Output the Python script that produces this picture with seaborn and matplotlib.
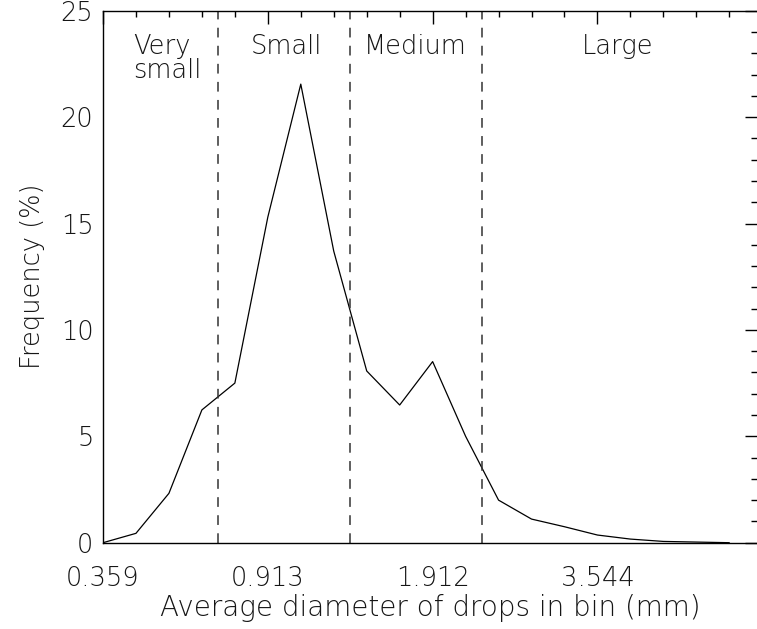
import matplotlib
matplotlib.use("Agg")
import matplotlib.pyplot as plt
import seaborn as sns
import numpy as np
import pandas as pd
from matplotlib.ticker import MultipleLocator, FixedLocator

# Data: JWD disdrometer bins (index) and frequency (%)
bin_index = list(range(20))
frequency = [0.0, 0.44, 2.32, 6.24, 7.5, 15.3, 21.55, 13.7, 8.07, 6.47,
             8.51, 5.0, 2.0, 1.11, 0.75, 0.36, 0.17, 0.06, 0.03, 0.0]
tick_positions = [0, 5, 10, 15]
tick_labels = ["0.359", "0.913", "1.912", "3.544"]
class_bounds = [3.5, 7.5, 11.5]
class_names = ["Very\nsmall", "Small", "Medium", "Large"]
class_text_x = [0.91, 5.55, 9.48, 15.6]

sns.set_style("white")
plt.rcParams["font.family"] = ["DejaVu Sans"]
plt.rcParams["lines.scale_dashes"] = False

df = pd.DataFrame({"bin": bin_index, "freq": frequency})

W, H = 757, 629
fig = plt.figure(figsize=(W / 100, H / 100), dpi=100)
left_px, right_px, top_px, bot_px = 103, 758, 10.7, 542.7
ax = fig.add_axes([left_px / W, (H - bot_px) / H,
                   (right_px - left_px) / W, (bot_px - top_px) / H])

sns.lineplot(data=df, x="bin", y="freq", ax=ax, color="black",
             linewidth=0.9, legend=False)

for xb in class_bounds:
    ax.axvline(xb, color="#333333", linewidth=1.1, dashes=(7.0, 6.0))

ax.set_xlim(0, 19.87)
ax.set_ylim(0, 25)

txtc = "#151515"
fs = 18.5
fw = "light"
for name, xt in zip(class_names, class_text_x):
    if "\n" in name:
        ax.text(xt, 23.92, name, ha="left", va="top", fontsize=fs,
                color=txtc, linespacing=0.95, fontweight=fw)
    else:
        ax.text(xt, 23.92, name, ha="center", va="top", fontsize=fs,
                color=txtc, fontweight=fw)

ax.xaxis.set_major_locator(FixedLocator(tick_positions))
ax.xaxis.set_minor_locator(MultipleLocator(1))
ax.set_xticklabels(tick_labels, fontweight=fw)
ax.yaxis.set_major_locator(MultipleLocator(5))
ax.yaxis.set_minor_locator(MultipleLocator(1))
for lab in ax.get_yticklabels():
    lab.set_fontweight(fw)

ax.tick_params(axis="both", which="both", direction="in", color="black",
               top=True, right=True, width=1.0)
ax.tick_params(axis="x", which="major", length=9, labelsize=fs,
               labelcolor=txtc, pad=17)
ax.tick_params(axis="x", which="minor", length=4.5)
ax.tick_params(axis="y", which="major", length=9.5, labelsize=fs,
               labelcolor=txtc, pad=7)
ax.tick_params(axis="y", which="minor", length=5)

for s in ax.spines.values():
    s.set_color("black")
    s.set_linewidth(1.0)
    s.set_visible(True)
ax.spines["right"].set_visible(False)

ax.set_xlabel("Average diameter of drops in bin (mm)", fontsize=20,
              color=txtc, fontweight=fw)
ax.set_ylabel("Frequency (%)", fontsize=fs, color=txtc, fontweight=fw)
ax.xaxis.set_label_coords(0.5, -0.097)
ax.yaxis.set_label_coords(-0.088, 0.5)

fig.savefig("out.png", dpi=100)
